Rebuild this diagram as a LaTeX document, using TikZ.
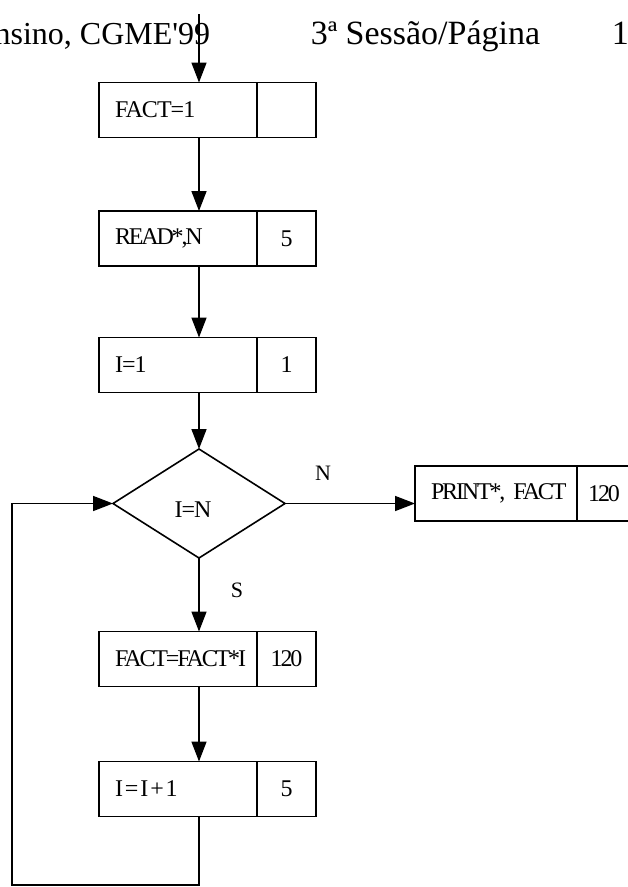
\documentclass[tikz,border=0pt]{standalone}
\usepackage{fontspec}
\setmainfont{Liberation Serif}
\usetikzlibrary{arrows.meta,shapes.geometric}
\newcommand{\tight}[1]{{\addfontfeatures{LetterSpace=-9}#1}}
\newcommand{\wide}[1]{{\addfontfeatures{LetterSpace=8}#1}}
\begin{document}
\begin{tikzpicture}[x=1pt,y=-1pt,
  line width=1.6pt,
  arr/.style={-{Triangle[length=20pt,width=15pt]}},
  boxfont/.style={font=\fontsize{24}{24}\selectfont\addfontfeatures{LetterSpace=-4}},
  lpart/.style={draw, rectangle, minimum width=158pt, minimum height=55pt,
    inner xsep=16pt, inner ysep=0pt, outer sep=0pt, text width=126pt,
    align=left, boxfont},
  rpart/.style={draw, rectangle, minimum width=59pt, minimum height=55pt,
    inner sep=0pt, outer sep=0pt, boxfont},
  dia/.style={draw, diamond, minimum width=172pt, minimum height=109pt,
    inner sep=0pt, outer sep=0pt, aspect=1.58},
  lbl/.style={font=\fontsize{22}{22}\selectfont, inner sep=0pt},
  hdr/.style={font=\fontsize{32}{32}\selectfont, inner sep=0pt},
  hdrb/.style={font=\fontsize{34}{34}\selectfont, inner sep=0pt}]
\useasboundingbox (0,0) rectangle (628,887);
\fill[white] (0,0) rectangle (628,887);
% header
\node[hdr, anchor=base east] (h1) at (211,44) {nsino, CGME\textquotesingle 99};
\node[hdrb, anchor=base west] (h2) at (310,44) {3ª Sessão/Página};
\node[hdrb, anchor=base west] (h3) at (611,44) {1};
% boxes
\node[lpart] (f1) at (178,110) {FACT=1};
\node[rpart, anchor=west] (f1v) at (f1.east) {};
\node[lpart] (rd) at (178,238.5) {\mbox{\tight{READ*,N}}};
\node[rpart, anchor=west] (rdv) at (rd.east) {5};
\node[lpart] (i1) at (178,365) {I=1};
\node[rpart, anchor=west] (i1v) at (i1.east) {1};
\node[dia] (d) at (199,503.5) {};
\node[boxfont, inner sep=0pt] (dt) at (193,510) {I=N};
\node[lpart, minimum width=162pt, text width=130pt, anchor=west] (pr) at (415,493.5) {\mbox{\tight{PRINT*, FACT}}};
\node[rpart, anchor=west, minimum width=54pt] (prv) at (pr.east) {\tight{120}};
\node[lpart] (ff) at (178,659) {\mbox{\tight{FACT=FACT*I}}};
\node[rpart, anchor=west] (ffv) at (ff.east) {\tight{120}};
\node[lpart] (ii) at (178,789) {\mbox{\wide{I=I+1}}};
\node[rpart, anchor=west] (iiv) at (ii.east) {5};
% labels
\node[lbl] (nl) at (323,473) {N};
\node[lbl] (sl) at (237,590) {S};
% connectors
\coordinate (top) at (199,14);
\coordinate (bl) at (12,885);
\draw[arr] (top) -- (f1.north -| top);
\draw[arr] (f1.south -| top) -- (rd.north -| top);
\draw[arr] (rd.south -| top) -- (i1.north -| top);
\draw[arr] (i1.south -| top) -- (d.north);
\draw[arr] (d.east) -- (d.east -| pr.west);
\draw[arr] (d.south) -- (ff.north -| d);
\draw[arr] (ff.south -| d) -- (ii.north -| d);
\draw[arr] (ii.south -| d) -- (d |- bl) -- (bl) -- (bl |- d.west) -- (d.west);
\end{tikzpicture}
\end{document}
